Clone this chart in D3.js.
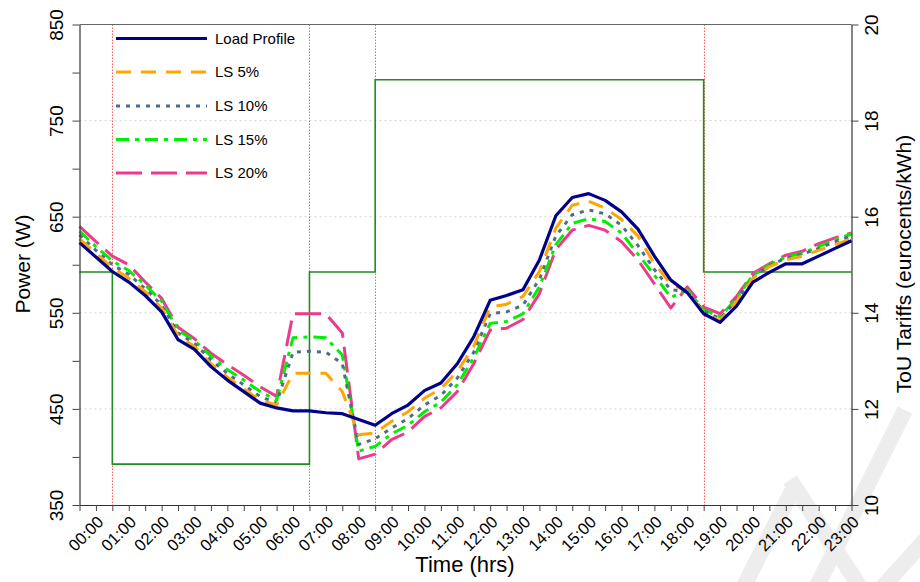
<!DOCTYPE html>
<html><head><meta charset="utf-8">
<script src="https://cdn.jsdelivr.net/npm/d3@7"></script>
<style>
html,body{margin:0;padding:0;background:#fff;}
svg{display:block;font-family:"Liberation Sans",Arial,sans-serif;}
</style></head>
<body>
<svg id="chart" width="920" height="582"></svg>
<script>
// ---- data ----
const times = [-0.5,0,0.5,1,1.5,2,2.5,3,3.5,4,4.5,5,5.5,6,6.5,7,7.5,8,8.5,9,9.5,10,10.5,11,11.5,12,12.5,13,13.5,14,14.5,15,15.5,16,16.5,17,17.5,18,18.5,19,19.5,20,20.5,21,21.5,22,22.5,23];
const hourLabels = ["00:00","01:00","02:00","03:00","04:00","05:00","06:00","07:00","08:00","09:00","10:00","11:00","12:00","13:00","14:00","15:00","16:00","17:00","18:00","19:00","20:00","21:00","22:00","23:00"];
const loadProfile = [623,608,593,582,568,551,522,512,494,480,468,456,451,448,448,446,445,439,433,445,454,469,477,497,525,563,568,574,605,651,670,674,667,655,637,609,584,571,549,540,557,582,592,601,601,609,617,625];
const ls5  = [627,612,597,586,572,555,526,515,497,483,471,459,454,487,487,487,468,423,425,437,447,461,471,489,515,556,559,567,593,638,662,666,659,647,630,601,580,572,550,542,562,586,598,605,609,615,621,627];
const ls10 = [631,615,600,590,575,558,529,518,501,487,475,463,456,509,510,509,497,413,419,430,440,454,464,482,509,549,551,558,585,630,652,657,653,641,620,595,574,572,552,544,563,587,599,607,611,617,624,630];
const ls15 = [635,619,604,594,579,562,532,521,505,491,480,468,459,524,525,524,506,406,411,424,433,447,457,475,503,539,541,549,577,621,643,648,645,633,611,589,566,574,553,546,565,589,600,608,612,619,626,632];
const ls20 = [640,624,609,600,582,565,535,523,508,496,485,473,463,549,549,549,529,398,403,418,426,442,451,468,497,532,534,543,570,616,636,641,636,624,605,580,555,577,556,549,567,591,601,610,614,622,628,633];
const seriesNames = ["Load Profile","LS 5%","LS 10%","LS 15%","LS 20%"];
const tariffTimes = [-0.5,0.5,6.5,8.5,18.5,23];
const tariffValues = [14.85,10.85,14.85,18.85,14.85,14.85];
const periodBoundaries = [0.5,6.5,8.5,18.5];
const powerTicks = [350,400,450,500,550,600,650,700,750,800,850];
const powerLabelled = [350,450,550,650,750,850];
const tariffTicks = [10,12,14,16,18,20];

// ---- styles ----
const styles = [
  {color:"#00008B", width:3.2, dash:null},
  {color:"#FFA500", width:3, dash:"15,10"},
  {color:"#4F6D8A", width:3, dash:"4,6"},
  {color:"#00EE00", width:3, dash:"13,6,4,6"},
  {color:"#EE3A8C", width:3, dash:"26,9"}
];

const svg = d3.select("#chart");
const L=79.5, R=851.5, T=24.5, B=505;
const x = d3.scaleLinear().domain([-0.5,23]).range([L,R]);
const yL = d3.scaleLinear().domain([350,850]).range([B,T]);
const yR = d3.scaleLinear().domain([10,20]).range([B,T]);

// watermark
const wm = svg.append("g").attr("stroke","#ededed").attr("stroke-width",16).attr("fill","none").attr("stroke-linecap","butt");
[[[742,590],[795,485]],[[790,480],[862,590]],[[815,590],[905,410]],[[880,590],[925,540]]].forEach(p=>{
  wm.append("line").attr("x1",p[0][0]).attr("y1",p[0][1]).attr("x2",p[1][0]).attr("y2",p[1][1]);
});

// grid
svg.append("g").selectAll("line").data([450,550,650,750]).join("line")
  .attr("x1",L).attr("x2",R).attr("y1",d=>yL(d)).attr("y2",d=>yL(d))
  .attr("stroke","#d6d6d6").attr("stroke-width",1).attr("stroke-dasharray","2,3");

// red period lines
svg.append("g").selectAll("line").data(periodBoundaries).join("line")
  .attr("x1",d=>Math.round(x(d))+0.5).attr("x2",d=>Math.round(x(d))+0.5).attr("y1",T).attr("y2",B)
  .attr("stroke","#ff5a5a").attr("stroke-width",1).attr("stroke-dasharray","1.5,1.5");

// tariff step
const tariffPts = tariffTimes.map((t,i)=>[t,tariffValues[i]]);
svg.append("path").datum(tariffPts)
  .attr("d", d3.line().x(d=>x(d[0])).y(d=>yR(d[1])).curve(d3.curveStepAfter))
  .attr("fill","none").attr("stroke","#228B22").attr("stroke-width",1.6);

// series
const allSeries=[loadProfile,ls5,ls10,ls15,ls20];
const line = d3.line().x((d,i)=>x(times[i])).y(d=>yL(d));
// draw in reverse so load profile on top? draw LS first
[4,3,2,1,0].forEach(k=>{
  const s=styles[k];
  svg.append("path").datum(allSeries[k]).attr("d",line)
    .attr("fill","none").attr("stroke",s.color).attr("stroke-width",s.width)
    .attr("stroke-dasharray",s.dash).attr("stroke-linejoin","round");
});

// axes
const axL = svg.append("g").attr("transform",`translate(${L},0)`)
  .call(d3.axisLeft(yL).tickValues(powerTicks).tickSize(7).tickSizeOuter(0)
     .tickFormat(d=>powerLabelled.includes(d)?d:""));
const axR = svg.append("g").attr("transform",`translate(${R},0)`)
  .call(d3.axisRight(yR).tickValues(tariffTicks).tickSize(7).tickSizeOuter(0));
const axB = svg.append("g").attr("transform",`translate(0,${B})`)
  .call(d3.axisBottom(x).tickValues(times).tickSize(6).tickSizeOuter(0)
     .tickFormat(d=>Number.isInteger(d)?hourLabels[d]:""));
[axL,axR,axB].forEach(a=>{
  a.select(".domain").attr("stroke","#333").attr("stroke-width",1.2);
  a.selectAll(".tick line").attr("stroke","#444");
});
axL.selectAll(".tick text").attr("font-size",19).attr("fill","#000")
  .attr("text-anchor","middle").attr("x",null).attr("dy",null)
  .attr("transform","translate(-17,0) rotate(-90)");
axR.selectAll(".tick text").attr("font-size",19).attr("fill","#000")
  .attr("text-anchor","middle").attr("x",null).attr("dy",null)
  .attr("transform","translate(26,0) rotate(-90)");
axB.selectAll(".tick text").attr("font-size",16.5).attr("fill","#000")
  .attr("text-anchor","end").attr("y",null).attr("dy",null)
  .attr("transform","translate(8,18) rotate(-45)");

// top border
svg.append("line").attr("x1",L).attr("x2",R).attr("y1",T).attr("y2",T).attr("stroke","#666").attr("stroke-width",1.2);

// titles
svg.append("text").attr("transform","translate(30,264) rotate(-90)").attr("text-anchor","middle")
  .attr("font-size",21).text("Power (W)");
svg.append("text").attr("transform","translate(911,264) rotate(-90)").attr("text-anchor","middle")
  .attr("font-size",21).text("ToU Tariffs (eurocents/kWh)");
svg.append("text").attr("x",465).attr("y",572).attr("text-anchor","middle")
  .attr("font-size",22).text("Time (hrs)");

// legend
const legY=[38.5,72,106,139.5,173];
const leg = svg.append("g");
seriesNames.forEach((n,k)=>{
  const s=styles[k];
  leg.append("line").attr("x1",116).attr("x2",207).attr("y1",legY[k]).attr("y2",legY[k])
    .attr("stroke",s.color).attr("stroke-width",s.width).attr("stroke-dasharray",s.dash);
  leg.append("text").attr("x",215).attr("y",legY[k]).attr("dy","0.35em").attr("font-size",15).text(n);
});
</script>
</body></html>
